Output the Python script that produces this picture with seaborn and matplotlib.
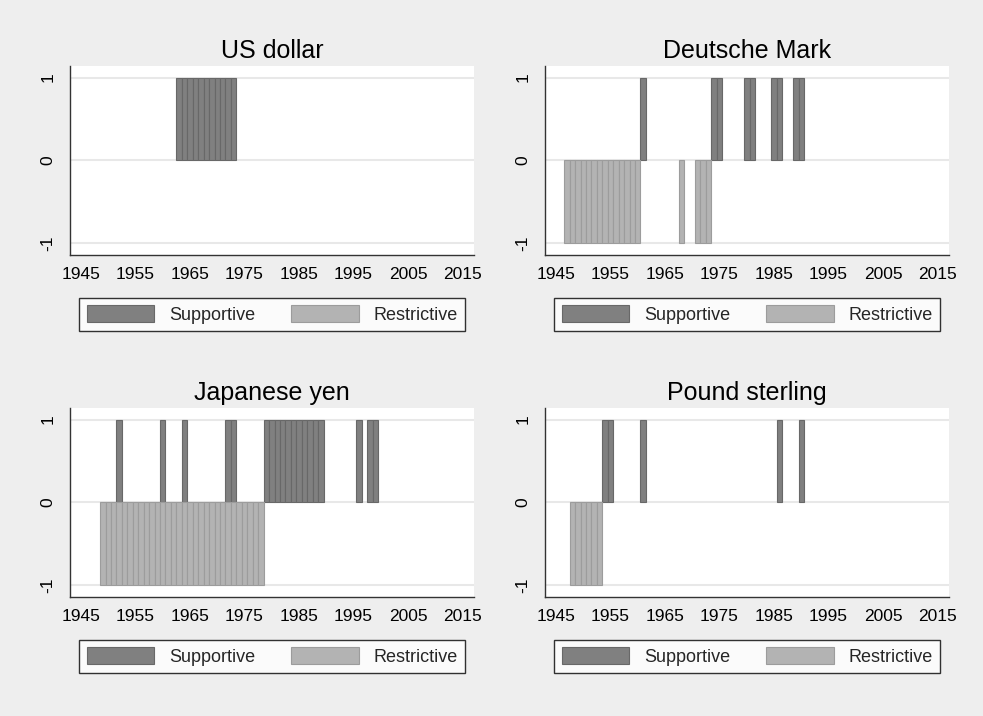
import matplotlib
matplotlib.use("Agg")
import matplotlib.pyplot as plt
from matplotlib.patches import Patch
import pandas as pd
import seaborn as sns

# Years with a supportive (+1) or restrictive (-1) policy stance, by currency
currencies = ["US dollar", "Deutsche Mark", "Japanese yen", "Pound sterling"]

usd_supportive = [1963, 1964, 1965, 1966, 1967, 1968, 1969, 1970, 1971, 1972, 1973]
usd_restrictive = []

dem_supportive = [1961, 1974, 1975, 1980, 1981, 1985, 1986, 1989, 1990]
dem_restrictive = [1947, 1948, 1949, 1950, 1951, 1952, 1953, 1954, 1955, 1956,
                   1957, 1958, 1959, 1960, 1968, 1971, 1972, 1973]

jpy_supportive = [1952, 1960, 1964, 1972, 1973, 1979, 1980, 1981, 1982, 1983,
                  1984, 1985, 1986, 1987, 1988, 1989, 1996, 1998, 1999]
jpy_restrictive = [1949, 1950, 1951, 1952, 1953, 1954, 1955, 1956, 1957, 1958,
                   1959, 1960, 1961, 1962, 1963, 1964, 1965, 1966, 1967, 1968,
                   1969, 1970, 1971, 1972, 1973, 1974, 1975, 1976, 1977, 1978]

gbp_supportive = [1954, 1955, 1961, 1986, 1990]
gbp_restrictive = [1948, 1949, 1950, 1951, 1952, 1953]

stance_value = {"Supportive": 1, "Restrictive": -1}
series = {
    "US dollar": (usd_supportive, usd_restrictive),
    "Deutsche Mark": (dem_supportive, dem_restrictive),
    "Japanese yen": (jpy_supportive, jpy_restrictive),
    "Pound sterling": (gbp_supportive, gbp_restrictive),
}

x_ticks = [1945, 1955, 1965, 1975, 1985, 1995, 2005, 2015]
y_ticks = [-1, 0, 1]

fill = {"Supportive": "#808080", "Restrictive": "#b3b3b3"}
edge = {"Supportive": "#686868", "Restrictive": "#9c9c9c"}

sns.set_theme(style="white")
plt.rcParams["font.family"] = ["Liberation Sans", "DejaVu Sans"]

fig = plt.figure(figsize=(9.83, 7.16), dpi=100)
fig.patch.set_facecolor("#eeeeee")

W, H = 983, 716
boxes = [(70, 66), (545, 66), (70, 408), (545, 408)]
aw, ah = 404, 189

for name, (left, top) in zip(currencies, boxes):
    ax = fig.add_axes([left / W, 1 - (top + ah) / H, aw / W, ah / H])
    ax.set_facecolor("white")
    sup, res = series[name]
    rows = [(y, "Supportive", stance_value["Supportive"]) for y in sup]
    rows += [(y, "Restrictive", stance_value["Restrictive"]) for y in res]
    df = pd.DataFrame(rows, columns=["year", "stance", "value"])

    sns.barplot(data=df, x="year", y="value", hue="stance",
                hue_order=["Supportive", "Restrictive"], palette=fill,
                native_scale=True, dodge=False, width=1, errorbar=None,
                saturation=1, legend=False, ax=ax)

    for p in ax.patches:
        fc = matplotlib.colors.to_hex(p.get_facecolor())
        p.set_edgecolor(edge["Supportive"] if fc == fill["Supportive"]
                        else edge["Restrictive"])
        p.set_linewidth(0.8)

    ax.set_xlim(1942.98, 2017.1)
    ax.set_ylim(-1.145, 1.14)
    ax.set_xticks(x_ticks)
    ax.set_xticklabels([str(t) for t in x_ticks])
    ax.set_yticks(y_ticks)
    ax.set_yticklabels([str(t) for t in y_ticks], rotation=90, va="center")
    ax.set_xlabel("")
    ax.set_ylabel("")
    ax.set_axisbelow(True)
    ax.grid(False)
    for yv in y_ticks:
        ax.axhline(yv, color="#e8e8e8", lw=1.5, zorder=0)

    for s in ["top", "right"]:
        ax.spines[s].set_visible(False)
    for s in ["left", "bottom"]:
        ax.spines[s].set_color("#333333")
        ax.spines[s].set_linewidth(1.0)

    ax.tick_params(axis="both", direction="out", length=5.5, width=1,
                   color="#333333", labelsize=12.5, labelcolor="black")
    ax.tick_params(axis="x", pad=3)
    ax.tick_params(axis="y", pad=5)
    ax.set_title(name, fontsize=18, pad=6, color="black")

    handles = [Patch(facecolor=fill[k], edgecolor=edge[k], lw=0.8, label=k)
               for k in ["Supportive", "Restrictive"]]
    leg = ax.legend(handles=handles, loc="upper center",
                    bbox_to_anchor=(0.5, -0.226), ncol=2, frameon=True,
                    fancybox=False, fontsize=13, handlelength=3.75,
                    handleheight=1.05, handletextpad=0.8, columnspacing=2.0,
                    borderpad=0.42, borderaxespad=0)
    leg.get_frame().set_edgecolor("black")
    leg.get_frame().set_linewidth(1.0)
    leg.get_frame().set_facecolor("white")

fig.savefig("out.png", dpi=100, facecolor=fig.get_facecolor())
